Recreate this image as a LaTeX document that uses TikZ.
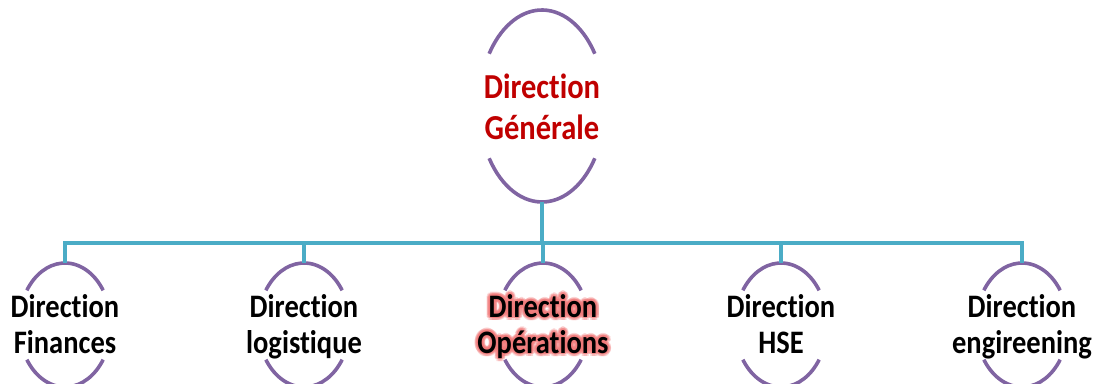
\documentclass[tikz,border=0pt]{standalone}
\usepackage{fontspec}
\usepackage{graphicx}
\setmainfont[Ligatures={NoCommon,NoRequired,NoContextual}]{Carlito}
\usetikzlibrary{shapes.geometric,calc}
\definecolor{purp}{HTML}{8064A2}
\definecolor{teal}{HTML}{4BACC6}
\definecolor{dred}{HTML}{C00000}
\definecolor{glowc}{RGB}{240,120,120}
\newcommand{\twol}[2]{\scalebox{1}[1.15]{\begin{tabular}{@{}c@{}}#1\\#2\end{tabular}}}
\begin{document}
\begin{tikzpicture}[x=1pt,y=1pt,
  arcst/.style={draw=purp,line width=3.6pt},
  conn/.style={draw=teal,line width=3.8pt},
  shell/.style={ellipse,inner sep=0pt,minimum width=92pt,minimum height=124pt},
  topshell/.style={ellipse,inner sep=0pt,minimum width=126pt,minimum height=192pt},
  lbl/.style={inner sep=0pt,font=\fontsize{28.5}{31.3}\selectfont\bfseries,text=black},
  toplbl/.style={inner sep=0pt,font=\fontsize{30.5}{34.8}\selectfont\bfseries,text=dred},
  glow/.style={inner sep=0pt,font=\fontsize{28.5}{31.3}\selectfont\bfseries,text=glowc,opacity=0.3}]
\useasboundingbox (0,0) rectangle (1102,383);
% top node
\node[topshell] (gen) at (542,277) {};
\node[toplbl] (genL) at ($(gen.center)+(0,-5)$) {\twol{Direction}{Générale}};
\draw[arcst] ($(gen.center)+(33:63 and 96)$) arc[start angle=33,end angle=147,x radius=63,y radius=96];
\draw[arcst] ($(gen.center)+(213:63 and 96)$) arc[start angle=213,end angle=327,x radius=63,y radius=96];
% children
\foreach \n/\x in {fin/65,log/304,ops/543,hse/781,eng/1022}{
  \node[shell] (\n) at (\x,58) {};
  \draw[arcst] ($(\n.center)+(34:46 and 62)$) arc[start angle=34,end angle=146,x radius=46,y radius=62];
  \draw[arcst] ($(\n.center)+(214:46 and 62)$) arc[start angle=214,end angle=326,x radius=46,y radius=62];
}
% glow behind Operations
\foreach \a in {0,30,...,330}{
  \node[glow] (gA\a) at ($(ops.center)+(0,-3)+(\a:3.5pt)$) {\twol{Direction}{Opérations}};
  \node[glow] (gB\a) at ($(ops.center)+(0,-3)+(\a+15:1.8pt)$) {\twol{Direction}{Opérations}};
}
\node[lbl] (finL) at ($(fin.center)+(0,-3)$) {\twol{Direction}{Finances}};
\node[lbl] (logL) at ($(log.center)+(0,-3)$) {\twol{Direction}{logistique}};
\node[lbl] (opsL) at ($(ops.center)+(0,-3)$) {\twol{Direction}{Opérations}};
\node[lbl] (hseL) at ($(hse.center)+(0,-3)$) {\twol{Direction}{HSE}};
\node[lbl] (engL) at ($(eng.center)+(0,-3)$) {\twol{Direction}{engireening}};
% connectors
\coordinate (busL) at (65,140);
\coordinate (busR) at (1022,140);
\draw[conn,line cap=rect] (busL) -- (busR);
\draw[conn] (gen.south) -- (gen.south |- busL);
\foreach \n in {fin,log,ops,hse,eng}{
  \draw[conn] (\n.north) -- (\n.north |- busL);
}
\end{tikzpicture}
\end{document}
